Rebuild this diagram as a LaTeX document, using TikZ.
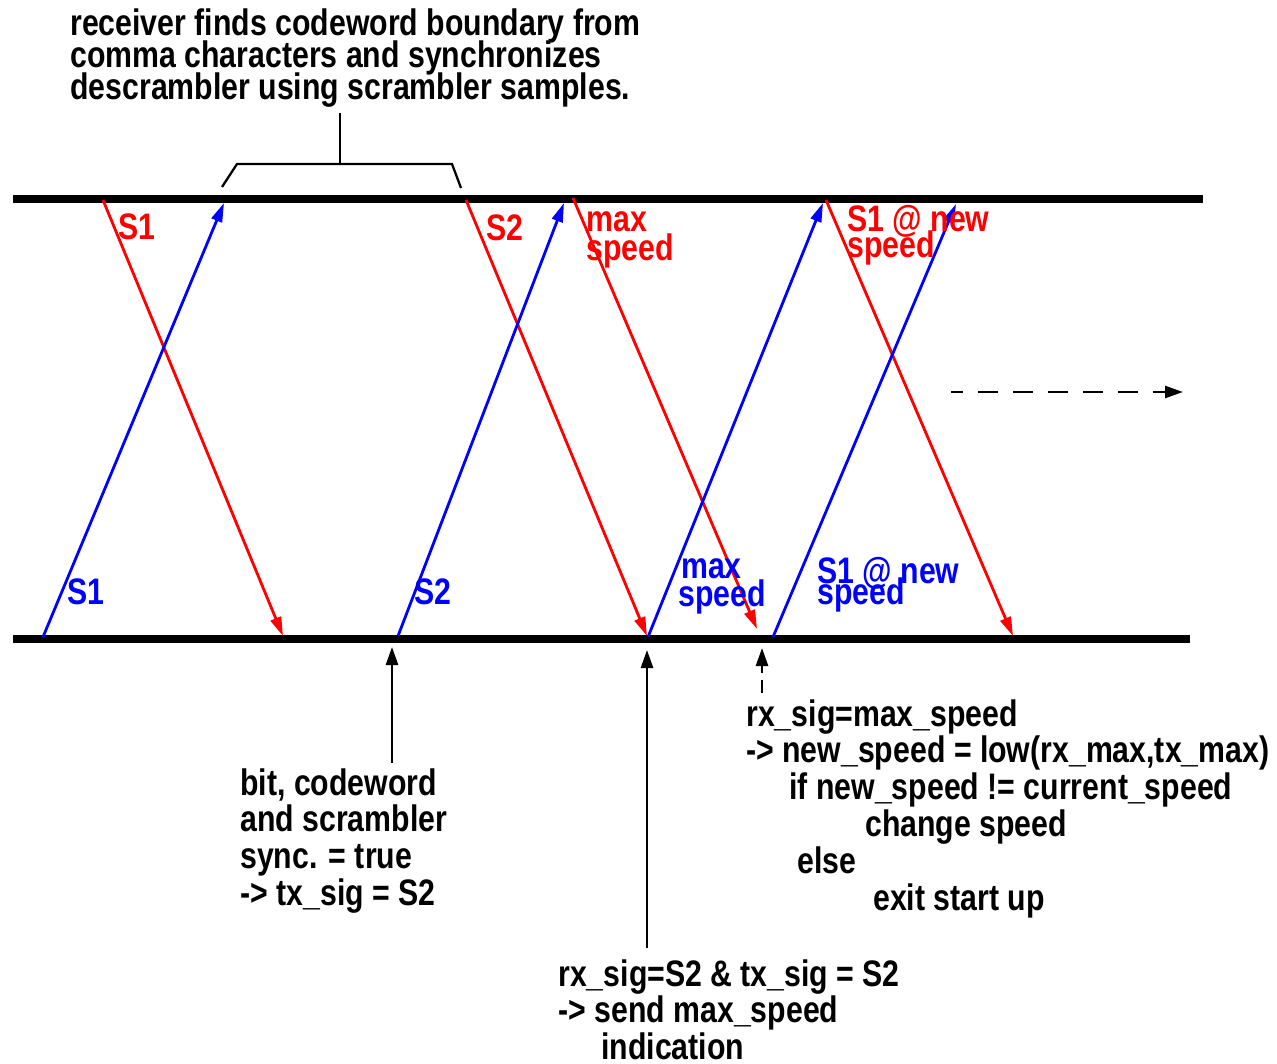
\documentclass[tikz,border=0pt]{standalone}
\usepackage{fontspec}
\setmainfont{Liberation Sans}[FakeStretch=0.82]
\usetikzlibrary{arrows.meta}

\newcommand\tightlines{\lineskiplimit=-100pt\relax}

\tikzset{
  rail/.style={line width=4pt},
  sig/.style={line width=1.6pt, -{Triangle[length=0.38cm,width=0.22cm]}},
  down/.style={sig, red},
  up/.style={sig, blue},
  pointer/.style={line width=1.5pt, -{Triangle[length=0.36cm,width=0.24cm]}},
  brace/.style={line width=1.3pt},
  note/.style={anchor=north west, inner sep=0pt, align=left,
    font={\bfseries\fontsize{21}{21}\selectfont\tightlines}},
  lbl/.style={anchor=north west, inner sep=0pt, align=left,
    font={\bfseries\fontsize{21}{#1}\selectfont\tightlines}},
  lbl/.default=16
}

\begin{document}
\begin{tikzpicture}[x=0.02cm, y=-0.02cm]
    \useasboundingbox (0,0) rectangle (1277,1064);

    % The two links
    \draw[rail] (13,199) -- (1203,199);
    \draw[rail] (13,639) -- (1190,639);

    % Points where the signals leave and reach the links
    \coordinate (tA) at (103,200);
    \coordinate (tB) at (224,203);
    \coordinate (tC) at (466,200);
    \coordinate (tD) at (564,203);
    \coordinate (tE) at (573,198);
    \coordinate (tF) at (823,203);
    \coordinate (tG) at (826,200);
    \coordinate (tH) at (956,204);
    \coordinate (bA) at (43,637);
    \coordinate (bB) at (283,636);
    \coordinate (bC) at (398,636);
    \coordinate (bD) at (647,636);
    \coordinate (bE) at (648,637);
    \coordinate (bF) at (757,629);
    \coordinate (bG) at (773,637);
    \coordinate (bH) at (1013,636);

    % Signals sent downwards (red) and upwards (blue)
    \draw[down] (tA) -- (bB);
    \draw[down] (tC) -- (bD);
    \draw[down] (tE) -- (bF);
    \draw[down] (tG) -- (bH);
    \draw[up] (bA) -- (tB);
    \draw[up] (bC) -- (tD);
    \draw[up] (bE) -- (tF);
    \draw[up] (bG) -- (tH);

    % Signal names
    \node[lbl, red] (rS1) at (118,213) {S1};
    \node[lbl, red] (rS2) at (486,214) {S2};
    \node[lbl=16.4, red] (rMax) at (586,211) {max\\speed};
    \node[lbl=14.7, red] (rNew) at (847,205) {S1 @ new\\speed};
    \node[lbl, blue] (bS1) at (67,578) {S1};
    \node[lbl, blue] (bS2) at (414,578) {S2};
    \node[lbl=15.9, blue] (bMax) at (678,558) {\hspace*{4\pgflinewidth}max\\speed};
    \node[lbl=11.8, blue] (bNew) at (817,557) {S1 @ new\\speed};

    % Time goes on
    \coordinate (dA) at (951,392);
    \coordinate (dB) at (1183,392);
    \draw[pointer, line width=1.4pt, dash pattern=on 0.4cm off 0.3cm, dash phase=0.16cm] (dA) -- (dB);

    % Receiver note and its bracket
    \node[lbl=18.2] (sync) at (70,8)
      {receiver finds codeword boundary from\\comma characters and synchronizes\\descrambler using scrambler samples.};
    \coordinate (brTop) at (340,113);
    \draw[brace] (222,187) -- (237,164) -- (452,164) -- (461,188);
    \draw[brace] (brTop) -- (brTop |- 0,164);

    % Notes under the lower link
    \node[note] (bitSync) at (240,768)
      {bit, codeword\\and scrambler\\sync. = true\\-> tx\_sig = S2};
    \node[note] (sendMax) at (558,959)
      {rx\_sig=S2 \& tx\_sig = S2\\-> send max\_speed\\\hspace*{0.86cm}indication};
    \node[note] (newSpeed) at (746,699)
      {rx\_sig=max\_speed\\-> new\_speed = low(rx\_max,tx\_max)\\
       \hspace*{0.86cm}if new\_speed != current\_speed\\
       \hspace*{2.38cm}change speed\\
       \hspace*{1.02cm}else\\
       \hspace*{2.54cm}exit start up};

    \coordinate (pA) at (392,647);
    \coordinate (pB) at (647,650);
    \coordinate (pC) at (762,648);
    \draw[pointer] (pA |- 0,763) -- (pA);
    \draw[pointer] (pB |- 0,948) -- (pB);
    \draw[pointer, dash pattern=on 0.26cm off 0.14cm] (pC |- 0,693) -- (pC);

\end{tikzpicture}
\end{document}
